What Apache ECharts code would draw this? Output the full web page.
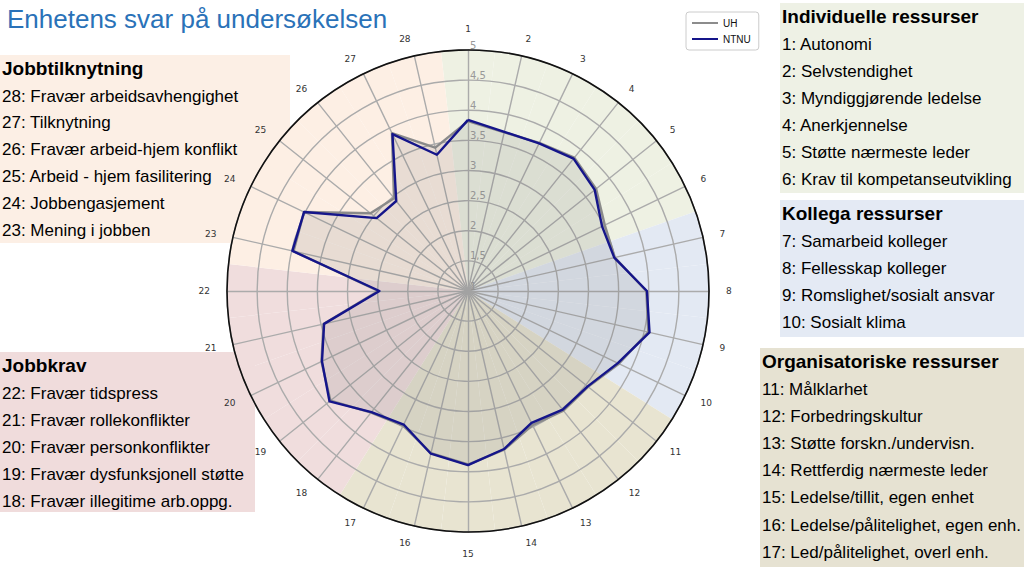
<!DOCTYPE html>
<html><head><meta charset="utf-8">
<script src="https://cdn.jsdelivr.net/npm/echarts@6/dist/echarts.min.js"></script>
<style>html,body{margin:0;padding:0;background:#fff}#c{width:1024px;height:576px}</style>
</head><body><div id="c"></div>
<script>
// ---------------- data ----------------
const categories = ['1','2','3','4','5','6','7','8','9','10','11','12','13','14','15','16','17','18','19','20','21','22','23','24','25','26','27','28'];
const uhValues   = [3.82, 3.70, 3.73, 3.83, 3.72, 3.52, 3.50, 3.96, 4.07, 3.78, 3.55, 3.54, 3.47, 3.70, 3.88, 3.76, 3.48, 3.58, 3.92, 3.70, 3.46, 2.49, 3.97, 4.02, 3.07, 2.97, 3.91, 3.44];
const ntnuValues = [3.84, 3.71, 3.72, 3.81, 3.69, 3.47, 3.49, 3.97, 4.09, 3.76, 3.54, 3.52, 3.43, 3.69, 3.89, 3.77, 3.46, 3.57, 3.94, 3.69, 3.45, 2.47, 3.99, 4.02, 2.94, 2.91, 3.89, 3.32];
const radialTicks = [1, 1.5, 2, 2.5, 3, 3.5, 4, 4.5, 5];
const radialTickLabels = ['1', '1,5', '2', '2,5', '3', '3,5', '4', '4,5', '5'];
const seriesNames = ['UH', 'NTNU'];
const titleText = 'Enhetens svar på undersøkelsen';
// group of each axis (index into groupNames)
const groupOfAxis = [0,0,0,0,0,0, 1,1,1,1, 2,2,2,2,2,2,2, 3,3,3,3,3, 4,4,4,4,4,4];
const groupNames = ['Individuelle ressurser', 'Kollega ressurser', 'Organisatoriske ressurser', 'Jobbkrav', 'Jobbtilknytning'];
const groupItems = [
  ['1: Autonomi', '2: Selvstendighet', '3: Myndiggjørende ledelse', '4: Anerkjennelse', '5: Støtte nærmeste leder', '6: Krav til kompetanseutvikling'],
  ['7: Samarbeid kolleger', '8: Fellesskap kolleger', '9: Romslighet/sosialt ansvar', '10: Sosialt klima'],
  ['11: Målklarhet', '12: Forbedringskultur', '13: Støtte forskn./undervisn.', '14: Rettferdig nærmeste leder', '15: Ledelse/tillit, egen enhet', '16: Ledelse/pålitelighet, egen enh.', '17: Led/pålitelighet, overl enh.'],
  ['22: Fravær tidspress', '21: Fravær rollekonflikter', '20: Fravær personkonflikter', '19: Fravær dysfunksjonell støtte', '18: Fravær illegitime arb.oppg.'],
  ['28: Fravær arbeidsavhengighet', '27: Tilknytning', '26: Fravær arbeid-hjem konflikt', '25: Arbeid - hjem fasilitering', '24: Jobbengasjement', '23: Mening i jobben']
];

// ---------------- styles / layout ----------------
const sectorColors = ['#eef1e3', '#e3e9f3', '#e8e4d1', '#f0dddd', '#fdefe4'];
const panelColors  = ['#eef1e5', '#e4eaf4', '#e6e2d2', '#f0dcdc', '#fcefe5'];
const panelBoxes = [
  {x: 780, y: 3,   w: 244, h: 190, tx: 782, ty: 16,  gap: 27.1},
  {x: 780, y: 200, w: 244, h: 137, tx: 782, ty: 213, gap: 27.3},
  {x: 760, y: 348, w: 264, h: 219, tx: 762, ty: 361, gap: 27.2},
  {x: 0,   y: 352, w: 255, h: 160, tx: 2,   ty: 365, gap: 27.0},
  {x: 0,   y: 55,  w: 290, h: 188, tx: 2,   ty: 68,  gap: 26.8}
];
const CX = 468, CY = 291, R = 241;
const FONT = '"Liberation Sans", Arial, sans-serif';

// radar indicators in ECharts go counter-clockwise; reorder so that 1,2,3.. run clockwise
const order = categories.map((_, i) => (categories.length - i) % categories.length);

const graphics = [];
panelBoxes.forEach((b, gi) => {
  graphics.push({type: 'rect', z: 0, silent: true, shape: {x: b.x, y: b.y, width: b.w, height: b.h}, style: {fill: panelColors[gi]}});
  graphics.push({type: 'text', z: 1, silent: true, x: b.tx, y: b.ty,
    style: {text: groupNames[gi], font: 'bold 19px ' + FONT, fill: '#000', verticalAlign: 'middle'}});
  groupItems[gi].forEach((t, j) => {
    graphics.push({type: 'text', z: 1, silent: true, x: b.tx, y: b.ty + 28 + j * b.gap,
      style: {text: t, font: '17px ' + FONT, fill: '#000', verticalAlign: 'middle'}});
  });
});

const chart = echarts.init(document.getElementById('c'), null, {renderer: 'svg'});
chart.setOption({
  animation: false,
  backgroundColor: '#fff',
  title: {text: titleText, left: 7, top: 6, padding: 0,
    textStyle: {color: '#2a72b8', fontSize: 26, fontWeight: 'normal', fontFamily: FONT}},
  legend: {
    data: seriesNames, orient: 'vertical', left: 686, top: 12,
    icon: 'rect', itemWidth: 26, itemHeight: 2, itemGap: 6,
    padding: [6, 8, 6, 6], borderColor: '#cccccc', borderWidth: 1, borderRadius: 3,
    backgroundColor: '#fff',
    textStyle: {fontSize: 10, color: '#111', fontFamily: FONT}
  },
  graphic: graphics,
  polar: {center: [CX, CY], radius: [0, R]},
  angleAxis: {
    type: 'category', data: categories, startAngle: 90 + 180 / categories.length, clockwise: true,
    axisLine: {show: true, lineStyle: {color: '#111', width: 1.6}},
    axisTick: {show: false}, axisLabel: {show: false}, splitLine: {show: false}, z: 10
  },
  radiusAxis: {min: 0, max: 1, show: false},
  radar: {
    center: [CX, CY], radius: R, startAngle: 90, shape: 'circle', splitNumber: 8, z: 3,
    indicator: order.map((k, i) => {
      const o = {name: categories[k], min: radialTicks[0], max: radialTicks[radialTicks.length - 1]};
      if (i === 0) o.axisLabel = {show: true};
      return o;
    }),
    nameGap: 17,
    axisName: {color: '#333', fontSize: 9, fontFamily: '"DejaVu Sans", sans-serif'},
    axisLine: {lineStyle: {color: '#ababab', width: 1.4}},
    splitLine: {lineStyle: {color: '#ababab', width: 1.4}},
    splitArea: {show: false},
    axisTick: {show: false},
    axisLabel: {show: false, color: '#999', fontSize: 10, fontFamily: '"DejaVu Sans", sans-serif',
      margin: -2, align: 'left', verticalAlign: 'bottom', showMinLabel: true, showMaxLabel: true,
      formatter: v => {
        const idx = radialTicks.findIndex(t => Math.abs(t - v) < 1e-6);
        return idx >= 0 ? radialTickLabels[idx] : '';
      }}
  },
  series: [
    {
      type: 'bar', coordinateSystem: 'polar', silent: true, z: 1,
      barCategoryGap: '0%', barGap: '0%',
      data: groupOfAxis.map(g => ({value: 1, itemStyle: {color: sectorColors[g]}}))
    },
    {
      type: 'radar', z: 4, symbol: 'none', silent: true,
      data: [
        {name: seriesNames[0], value: order.map(k => uhValues[k]),
          lineStyle: {color: '#8c8c8c', width: 2.4}, itemStyle: {color: '#8c8c8c'},
          areaStyle: {color: 'rgba(120,120,120,0.22)'}},
        {name: seriesNames[1], value: order.map(k => ntnuValues[k]),
          lineStyle: {color: '#15158a', width: 2.4}, itemStyle: {color: '#15158a'}}
      ]
    }
  ]
});
</script></body></html>
